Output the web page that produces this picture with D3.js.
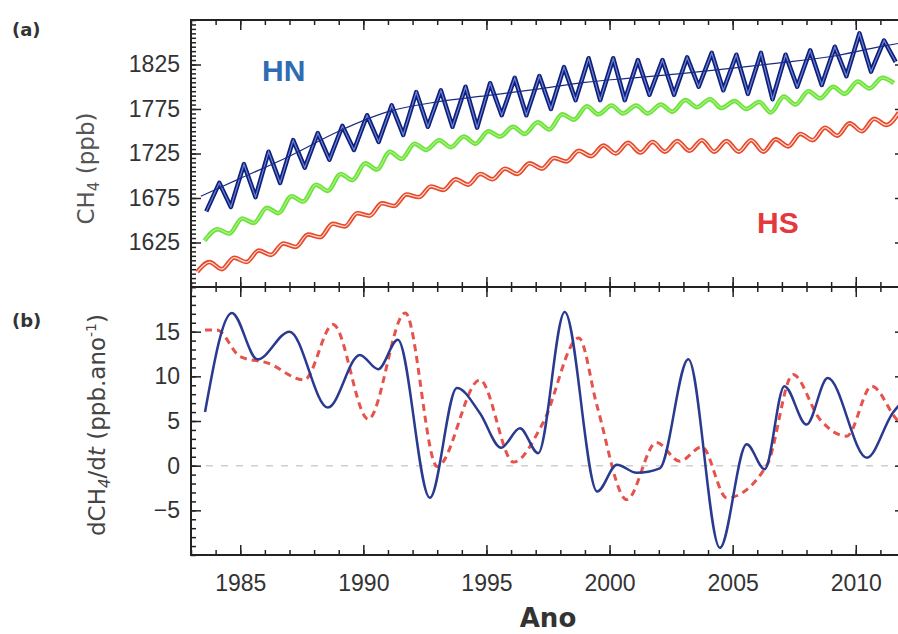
<!DOCTYPE html>
<html>
<head>
<meta charset="utf-8">
<script src="https://cdn.jsdelivr.net/npm/d3@7"></script>
<style>
  body { margin: 0; background: #fff; }
  svg { display: block; font-family: "DejaVu Sans", sans-serif; }
  .tick text { fill: #333; font-size: 23px; }
  .tick line { stroke: #222; stroke-width: 1.5; }
</style>
</head>
<body>
<svg id="chart"></svg>
<script>
// Years of the seasonal cycles (one peak and one trough per year)
const years = [1983, 1984, 1985, 1986, 1987, 1988, 1989, 1990, 1991, 1992,
  1993, 1994, 1995, 1996, 1997, 1998, 1999, 2000, 2001, 2002,
  2003, 2004, 2005, 2006, 2007, 2008, 2009, 2010, 2011];

// HN (northern hemisphere), ppb
const hnPeaks = [null, 1692, 1713, 1727, 1740, 1748, 1756, 1768, 1779, 1794,
  1796, 1800, 1804, 1810, 1812, 1822, 1832, 1832, 1830, 1830,
  1833, 1838, 1836, 1838, 1836, 1841, 1845, 1860, 1852];
const hnTroughs = [1660, 1665, 1676, 1692, 1709, 1718, 1729, 1738, 1746, 1755,
  1755, 1754, 1768, 1768, 1775, 1785, 1785, 1785, 1791, 1791,
  1800, 1796, 1792, 1786, 1800, 1802, 1812, 1817, 1828];
const hnTrendYears = [1983.4, 1985, 1987, 1989, 1991, 1993, 1995, 1997, 1999, 2001, 2003, 2005, 2007, 2009, 2011, 2012];
const hnTrend = [1677, 1697, 1722, 1750, 1772, 1783, 1790, 1797, 1805, 1810, 1815, 1821, 1827, 1834, 1845, 1850];

// Global (green), ppb
const glPeaks = [null, 1640, 1652, 1664, 1677, 1690, 1702, 1714, 1727, 1736,
  1740, 1744, 1750, 1755, 1760, 1769, 1778, 1779, 1779, 1780,
  1785, 1786, 1784, 1783, 1789, 1795, 1800, 1806, 1810];
const glTroughs = [1627, 1635, 1647, 1658, 1671, 1683, 1695, 1707, 1719, 1729,
  1732, 1736, 1744, 1747, 1752, 1763, 1769, 1770, 1770, 1772,
  1777, 1776, 1775, 1771, 1780, 1787, 1792, 1798, 1804];

// HS (southern hemisphere), ppb
const hsPeaks = [1603, 1608, 1616, 1624, 1634, 1646, 1658, 1669, 1679, 1688,
  1696, 1702, 1708, 1714, 1720, 1728, 1734, 1737, 1738, 1739,
  1740, 1739, 1740, 1741, 1747, 1754, 1759, 1764, 1771];
const hsTroughs = [1592, 1595, 1603, 1611, 1620, 1631, 1643, 1655, 1666, 1676,
  1684, 1690, 1696, 1702, 1708, 1716, 1722, 1725, 1726, 1727,
  1728, 1727, 1727, 1727, 1733, 1740, 1745, 1750, 1757];

// Growth rate dCH4/dt, ppb/ano
const hnRateYears = [1983.57, 1984.66, 1985.7, 1987.0, 1988.56, 1989.86, 1990.6, 1991.4, 1992.7, 1993.8,
  1994.73, 1995.6, 1996.36, 1997.1, 1998.18, 1999.5, 2000.3, 2001.1, 2002.04, 2003.2,
  2004.48, 2005.57, 2006.3, 2007.1, 2008.0, 2008.86, 2010.45, 2011.5, 2012.2];
const hnRate = [6.0, 17.1, 11.9, 15.0, 6.5, 12.4, 10.8, 14.1, -3.6, 8.7,
  5.9, 2.0, 4.2, 1.4, 17.2, -2.9, 0.1, -0.8, -0.3, 11.9,
  -9.2, 2.4, -0.4, 8.9, 4.6, 9.8, 0.9, 5.9, 8.0];
const hsRateYears = [1983.57, 1984.05, 1985.0, 1986.1, 1987.6, 1988.77, 1990.2, 1991.7, 1993.0, 1994.73,
  1996.1, 1997.3, 1998.75, 1999.5, 2000.7, 2001.9, 2002.85, 2003.75, 2004.76, 2006.4,
  2007.45, 2008.54, 2009.63, 2010.65, 2011.66, 2012.2];
const hsRate = [15.2, 15.2, 12.2, 11.5, 9.6, 15.8, 5.2, 17.1, -0.1, 9.6,
  0.4, 4.8, 14.3, 6.6, -3.8, 2.6, 0.5, 2.1, -3.6, 0.1,
  10.2, 5.2, 3.3, 8.9, 5.2, 4.0];

const xTicks = [1985, 1990, 1995, 2000, 2005, 2010];
const yTicksTop = [1625, 1675, 1725, 1775, 1825];
const yTicksBottom = [-5, 0, 5, 10, 15];

// Layout
const W = 898, H = 634;
const left = 191, right = 905;
const topA = 20, bottomA = 287, topB = 287, bottomB = 555;

const svg = d3.select("#chart").attr("width", W).attr("height", H);
svg.append("rect").attr("width", W).attr("height", H).attr("fill", "#fff");

const x = d3.scaleLinear().domain([1983, 2012]).range([left, right]);
const yA = d3.scaleLinear().domain([1575, 1875]).range([bottomA, topA]);
const yB = d3.scaleLinear().domain([-10, 20]).range([bottomB, topB]);

svg.append("clipPath").attr("id", "clipA").append("rect")
  .attr("x", left).attr("y", topA).attr("width", right - left).attr("height", bottomA - topA);
svg.append("clipPath").attr("id", "clipB").append("rect")
  .attr("x", left).attr("y", topB).attr("width", right - left).attr("height", bottomB - topB);

// build a seasonal series from peaks/troughs
function seasonal(peaks, troughs, peakPhase, troughPhase) {
  const pts = [];
  years.forEach((yr, i) => {
    if (peaks[i] != null) pts.push({ t: yr + peakPhase, v: peaks[i] });
    if (troughs[i] != null) pts.push({ t: yr + troughPhase, v: troughs[i] });
  });
  return pts.sort((a, b) => a.t - b.t);
}

const lineA = d3.line().x(d => x(d.t)).y(d => yA(d.v)).curve(d3.curveMonotoneX);
const lineHN = d3.line().x(d => x(d.t)).y(d => yA(d.v)).curve(d3.curveLinear);
const lineB = d3.line().x(d => x(d.t)).y(d => yB(d.v)).curve(d3.curveMonotoneX);

const gA = svg.append("g").attr("clip-path", "url(#clipA)");

const hs = seasonal(hsPeaks, hsTroughs, 0.75, 0.25);
const gl = seasonal(glPeaks, glTroughs, 0.08, 0.55);
const hn = seasonal(hnPeaks, hnTroughs, 0.15, 0.62);

// HS red
gA.append("path").datum(hs).attr("d", lineA)
  .attr("fill", "none").attr("stroke", "#e6492c").attr("stroke-width", 4.5);
gA.append("path").datum(hs).attr("d", lineA)
  .attr("fill", "none").attr("stroke", "#ffe0d2").attr("stroke-width", 1.2);

// global green
gA.append("path").datum(gl).attr("d", lineA)
  .attr("fill", "none").attr("stroke", "#6ee23c").attr("stroke-width", 4.5)
  .attr("stroke-linejoin", "round");
gA.append("path").datum(gl).attr("d", lineA)
  .attr("fill", "none").attr("stroke", "#a8f27f").attr("stroke-width", 1.2);

// HN navy
gA.append("path").datum(hn).attr("d", lineHN)
  .attr("fill", "none").attr("stroke", "#0d1f7a").attr("stroke-width", 4.5)
  .attr("stroke-linejoin", "round");
gA.append("path").datum(hn).attr("d", lineHN)
  .attr("fill", "none").attr("stroke", "#6f83d4").attr("stroke-width", 1.2);
gA.append("path").datum(hnTrendYears.map((t, i) => ({ t, v: hnTrend[i] })))
  .attr("d", lineA).attr("fill", "none").attr("stroke", "#1a2b86").attr("stroke-width", 1.2);

// Panel b
const gB = svg.append("g").attr("clip-path", "url(#clipB)");
gB.append("line")
  .attr("x1", left).attr("x2", right).attr("y1", yB(0)).attr("y2", yB(0))
  .attr("stroke", "#cfcfcf").attr("stroke-width", 1.5).attr("stroke-dasharray", "7,8");
gB.append("path").datum(hsRateYears.map((t, i) => ({ t, v: hsRate[i] })))
  .attr("d", lineB).attr("fill", "none").attr("stroke", "#e6524c")
  .attr("stroke-width", 3).attr("stroke-dasharray", "7,5");
gB.append("path").datum(hnRateYears.map((t, i) => ({ t, v: hnRate[i] })))
  .attr("d", lineB).attr("fill", "none").attr("stroke", "#2a3a8e").attr("stroke-width", 2.5);

// Axes (ticks inward on all sides)
const yrMinor = d3.range(1983, 2013);
const addAxis = (axis, tx, ty) => {
  const g = svg.append("g").attr("transform", `translate(${tx},${ty})`).call(axis);
  g.select(".domain").remove();
  return g;
};

[[yA, yTicksTop, d3.range(1575, 1876, 5)], [yB, yTicksBottom, d3.range(-10, 21, 1)]].forEach(([ys, major, minor]) => {
  addAxis(d3.axisLeft(ys).tickValues(minor).tickSize(-5).tickFormat(""), left, 0);
  addAxis(d3.axisLeft(ys).tickValues(major).tickSize(-10).tickPadding(11).tickFormat(d3.format("d")), left, 0);
  addAxis(d3.axisRight(ys).tickValues(minor).tickSize(-5).tickFormat(""), right, 0);
  addAxis(d3.axisRight(ys).tickValues(major).tickSize(-10).tickFormat(""), right, 0);
});

[[d3.axisTop, topA], [d3.axisBottom, bottomA], [d3.axisTop, topB]].forEach(([ax, yy]) => {
  addAxis(ax(x).tickValues(yrMinor).tickSize(-5).tickFormat(""), 0, yy);
  addAxis(ax(x).tickValues(xTicks).tickSize(-10).tickFormat(""), 0, yy);
});
addAxis(d3.axisBottom(x).tickValues(yrMinor).tickSize(-5).tickFormat(""), 0, bottomB);
addAxis(d3.axisBottom(x).tickValues(xTicks).tickSize(-10).tickPadding(20).tickFormat(d3.format("d")), 0, bottomB);

// Frames
svg.append("rect").attr("x", left).attr("y", topA).attr("width", right - left).attr("height", bottomA - topA)
  .attr("fill", "none").attr("stroke", "#222").attr("stroke-width", 2);
svg.append("rect").attr("x", left).attr("y", topB).attr("width", right - left).attr("height", bottomB - topB)
  .attr("fill", "none").attr("stroke", "#222").attr("stroke-width", 2);

// Labels
svg.append("text").attr("x", 12).attr("y", 36).attr("font-size", 18).attr("font-weight", "bold")
  .attr("fill", "#333").text("(a)");
svg.append("text").attr("x", 12).attr("y", 327).attr("font-size", 18).attr("font-weight", "bold")
  .attr("fill", "#333").text("(b)");

svg.append("text").attr("x", 262).attr("y", 81).attr("font-size", 30).attr("font-weight", "bold")
  .attr("font-family", "Liberation Sans, Arial, sans-serif").attr("fill", "#2f6cb4").text("HN");
svg.append("text").attr("x", 757).attr("y", 233).attr("font-size", 30).attr("font-weight", "bold")
  .attr("font-family", "Liberation Sans, Arial, sans-serif").attr("fill", "#e5383d").text("HS");

const yTitleA = svg.append("text")
  .attr("transform", `translate(94,${(topA + bottomA) / 2 + 15}) rotate(-90)`)
  .attr("text-anchor", "middle").attr("font-size", 23).attr("fill", "#555");
yTitleA.append("tspan").text("CH");
yTitleA.append("tspan").attr("font-size", 15).attr("dy", 5).text("4");
yTitleA.append("tspan").attr("dy", -5).text(" (ppb)");

const yTitleB = svg.append("text")
  .attr("transform", `translate(105,${(topB + bottomB) / 2 + 4}) rotate(-90)`)
  .attr("text-anchor", "middle").attr("font-size", 23).attr("fill", "#444");
yTitleB.append("tspan").text("dCH");
yTitleB.append("tspan").attr("font-size", 15).attr("dy", 5).attr("font-style", "italic").text("4");
yTitleB.append("tspan").attr("dy", -5).text("/d");
yTitleB.append("tspan").attr("font-style", "italic").text("t");
yTitleB.append("tspan").text(" (ppb.ano");
yTitleB.append("tspan").attr("font-size", 14).attr("dy", -9).text("-1");
yTitleB.append("tspan").attr("dy", 9).text(")");

svg.append("text").attr("x", (left + right) / 2).attr("y", 627).attr("text-anchor", "middle")
  .attr("font-size", 26).attr("font-weight", "bold").attr("fill", "#333").text("Ano");
</script>
</body>
</html>
